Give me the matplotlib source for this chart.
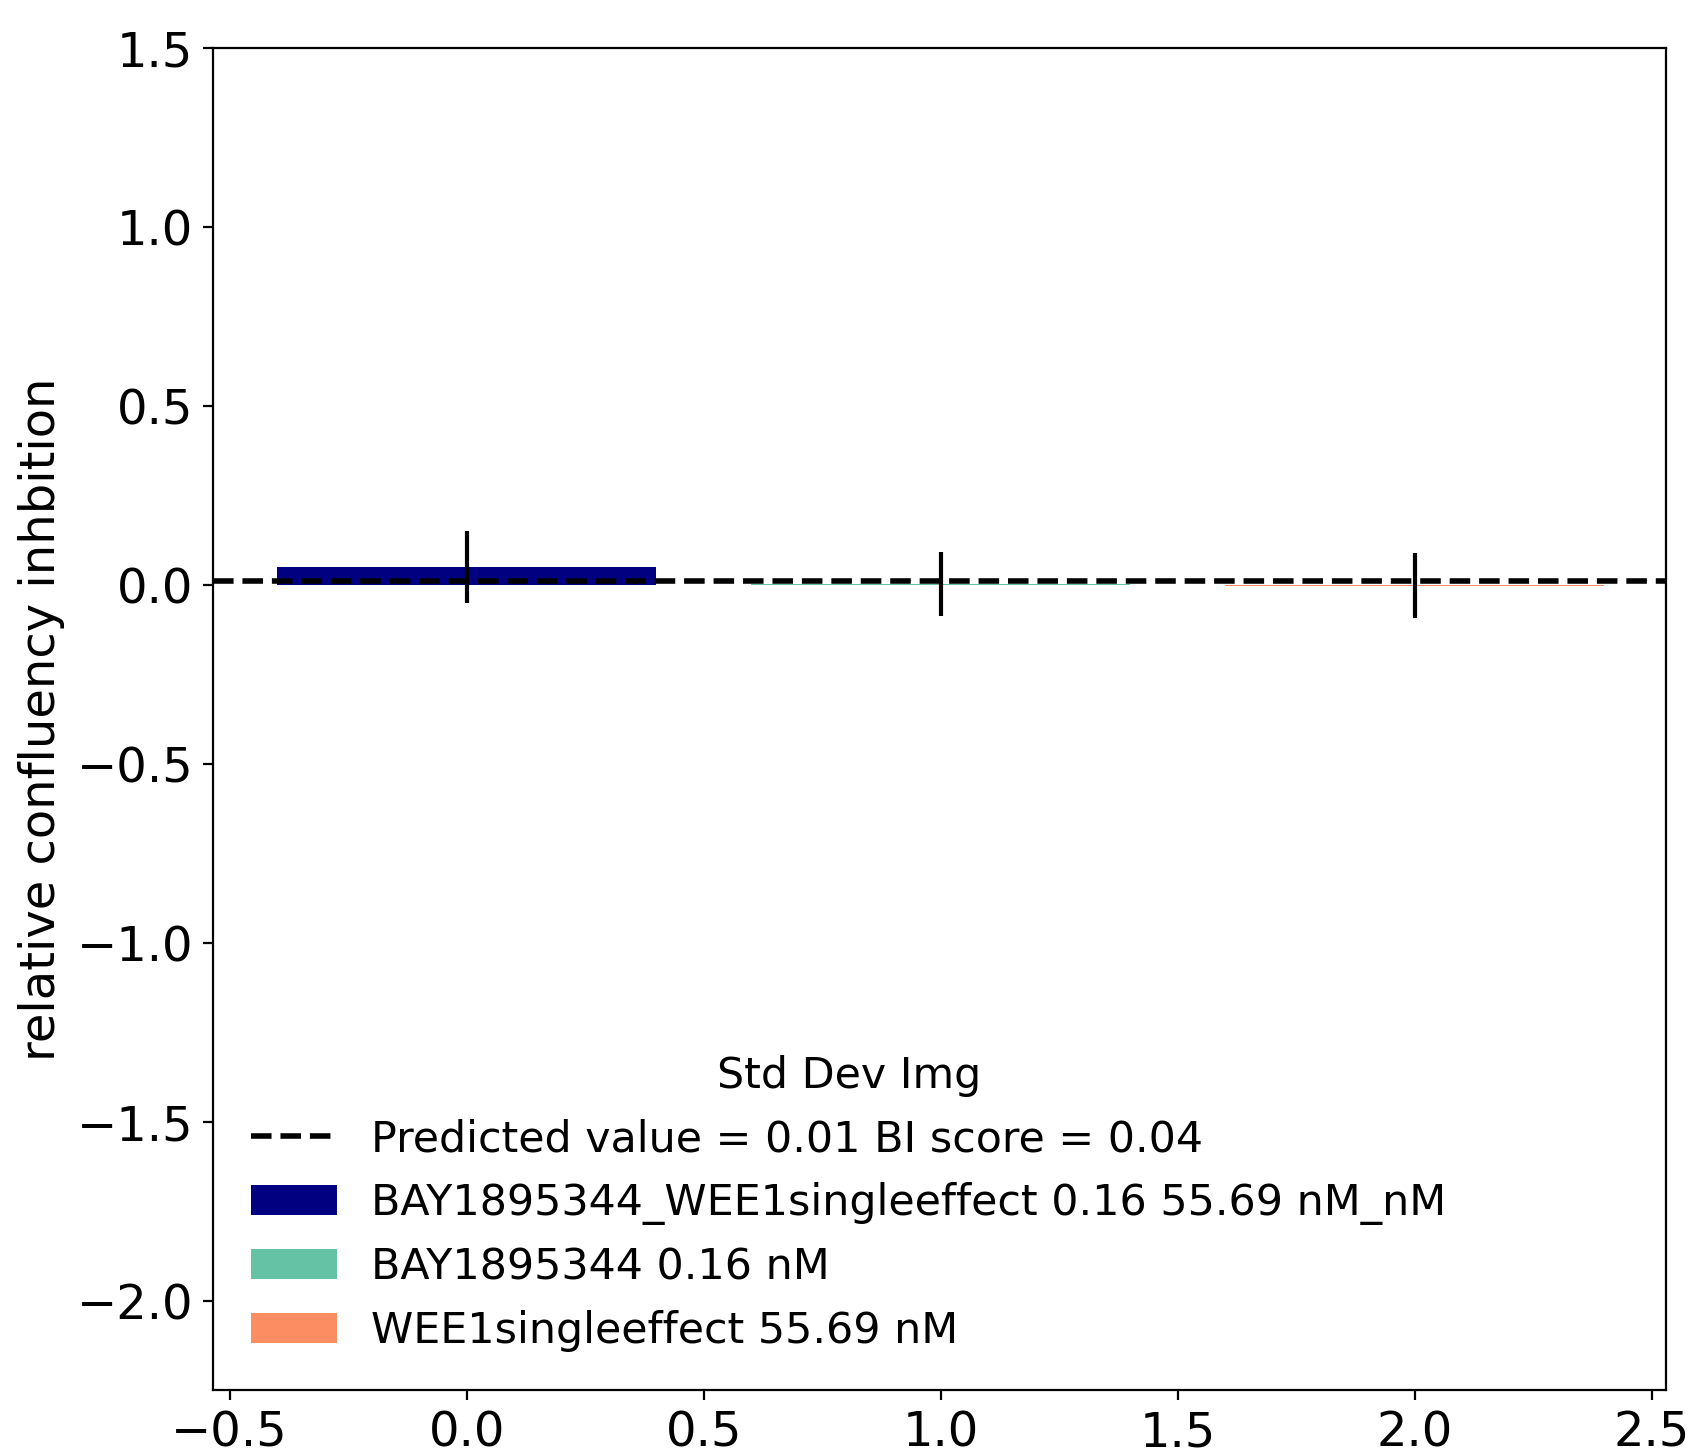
import matplotlib
matplotlib.use("Agg")
import matplotlib.pyplot as plt

labels = ["BAY1895344_WEE1singleeffect 0.16 55.69 nM_nM",
          "BAY1895344 0.16 nM",
          "WEE1singleeffect 55.69 nM"]
values = [0.05, 0.003, -0.002]
errors = [0.10, 0.09, 0.092]
colors = ["navy", "#66c2a5", "#fc8d62"]
predicted = 0.01
bi_score = 0.04

plt.rcParams['font.size'] = 17.3
fig, ax = plt.subplots(figsize=(8.44, 7.27), dpi=200)
fig.subplots_adjust(left=0.126, right=0.987, top=0.967, bottom=0.044)

ax.axhline(predicted, color="black", linestyle="--", linewidth=2,
           label=f"Predicted value = {predicted} BI score = {bi_score}", zorder=3)
for i, (v, e, c, lab) in enumerate(zip(values, errors, colors, labels)):
    ax.bar(i, v, width=0.8, color=c, label=lab, zorder=2)
    ax.errorbar(i, v, yerr=e, color="black", linewidth=1.5, zorder=4)

ax.set_xlim(-0.536, 2.53)
ax.set_ylim(-2.25, 1.5)
ax.set_ylabel("relative confluency inhbition")
ax.legend(title="Std Dev Img", loc="lower left", frameon=False,
          fontsize=15.4, title_fontsize=15.4)

fig.savefig("out.png")
